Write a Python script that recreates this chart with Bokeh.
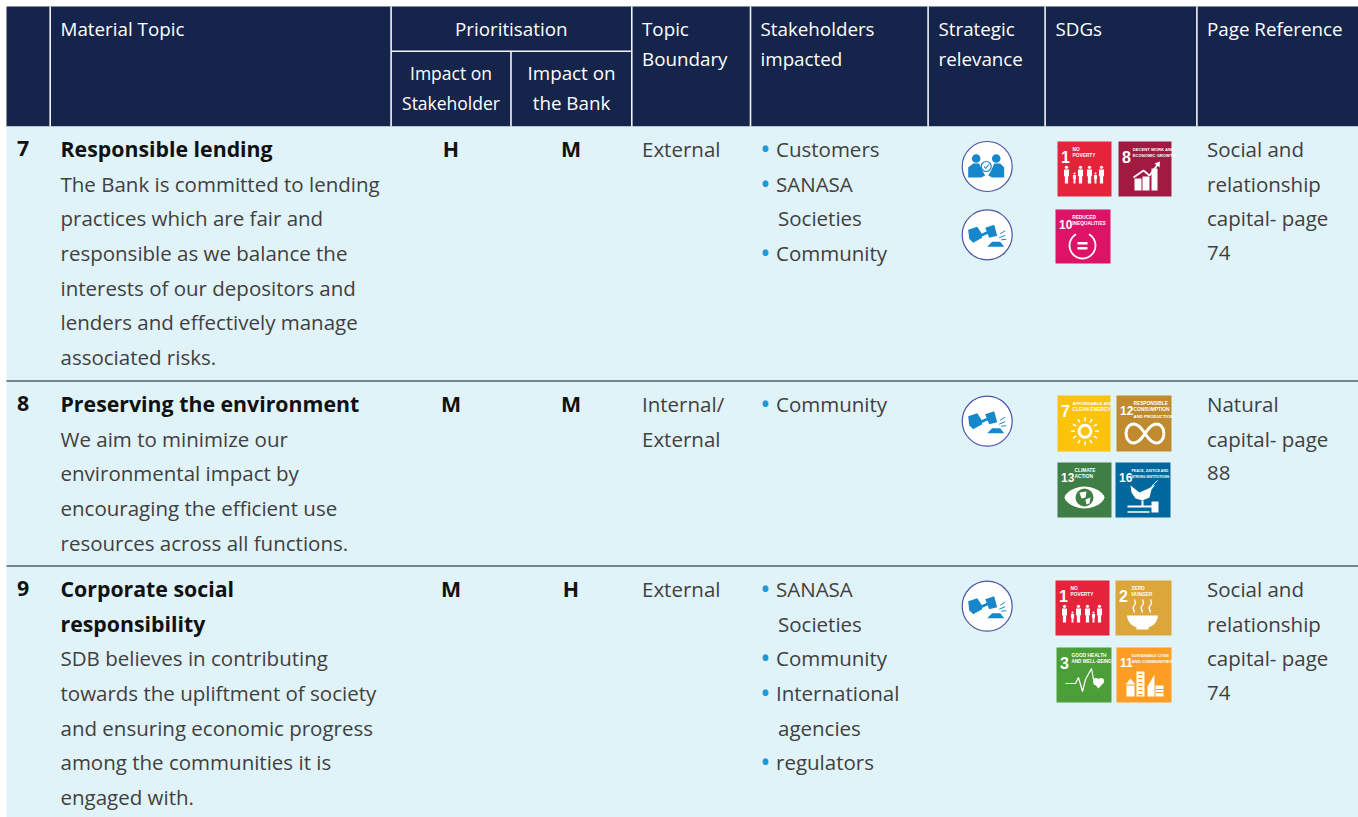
import math
from bokeh.plotting import figure
from bokeh.models import Range1d
from bokeh.core.properties import value
from bokeh.embed import file_html
from bokeh.resources import INLINE

# ---- table content ----
row_numbers = ["7", "8", "9"]
titles = [["Responsible lending"], ["Preserving the environment"], ["Corporate social", "responsibility"]]
descriptions = [
    ["The Bank is committed to lending", "practices which are fair and", "responsible as we balance the",
     "interests of our depositors and", "lenders and effectively manage", "associated risks."],
    ["We aim to minimize our", "environmental impact by", "encouraging the efficient use", "resources across all functions."],
    ["SDB believes in contributing", "towards the upliftment of society", "and ensuring economic progress",
     "among the communities it is", "engaged with."],
]
impact_stakeholder = ["H", "M", "M"]
impact_bank = ["M", "M", "H"]
boundaries = [["External"], ["Internal/", "External"], ["External"]]
stakeholders = [
    [["Customers"], ["SANASA", "Societies"], ["Community"]],
    [["Community"]],
    [["SANASA", "Societies"], ["Community"], ["International", "agencies"], ["regulators"]],
]
page_refs = [["Social and", "relationship", "capital- page", "74"],
             ["Natural", "capital- page", "88"],
             ["Social and", "relationship", "capital- page", "74"]]
strategic_icons = [["people", "gavel"], ["gavel"], ["gavel"]]
sdgs = [[1, 8, 10], [7, 12, 13, 16], [1, 2, 3, 11]]
sdg_labels = {1: ["NO", "POVERTY"], 2: ["ZERO", "HUNGER"], 3: ["GOOD HEALTH", "AND WELL-BEING"],
              7: ["AFFORDABLE AND", "CLEAN ENERGY"], 8: ["DECENT WORK AND", "ECONOMIC GROWTH"],
              10: ["REDUCED", "INEQUALITIES"], 11: ["SUSTAINABLE CITIES", "AND COMMUNITIES"],
              12: ["RESPONSIBLE", "CONSUMPTION", "AND PRODUCTION"], 13: ["CLIMATE", "ACTION"],
              16: ["PEACE, JUSTICE AND", "STRONG INSTITUTIONS"]}
sdg_label_x = {1: 15, 2: 16, 3: 15, 7: 15, 8: 14.3, 10: 16.7, 11: 15, 12: 17, 13: 17, 16: 16}
sdg_colors = {1: "#E5243B", 2: "#DDA63A", 3: "#4C9F38", 7: "#FCC30B", 8: "#A21942", 10: "#DD1367",
              11: "#FD9D24", 12: "#BF8B2E", 13: "#3F7E44", 16: "#00689D"}

# ---- styling and layout (page pixels) ----
NAVY, BODY, INK, BULLET, STROKE, ICON = "#15244A", "#E0F3F8", "#404040", "#1B9AD6", "#4A55A8", "#1787CC"
LEFT, RIGHT, TOP, HEAD_BOTTOM, BOTTOM = 6, 1358, 6, 126, 817
FONT, FS, FS_BOLD, FS_HEAD, LH = "Open Sans", 20.5, 21.3, 18.8, 34.7
row_first_baseline = [148.4, 403.4, 588.4]
row_dividers = [380.5, 565.5]
tile_boxes = [
    [(1057, 141, 1111, 196), (1118, 141, 1171, 196), (1055, 209, 1110, 263)],
    [(1057, 395, 1110, 451), (1116, 395, 1171, 451), (1057, 462, 1111, 517), (1115, 462, 1170, 517)],
    [(1055, 580, 1109, 635), (1115, 580, 1171, 635), (1056, 647, 1111, 702), (1116, 647, 1171, 702)],
]
icon_centres = [[(986.7, 166), (986.7, 234.3)], [(986.7, 420.7)], [(986.7, 605.7)]]

p = figure(width=1358, height=817, x_range=Range1d(0, 1358), y_range=Range1d(817, 0),
           toolbar_location=None, output_backend="svg", min_border=0)
p.axis.visible = False
p.grid.visible = False
p.outline_line_color = None
p.background_fill_color = "white"


def txt(x, y, s, size=FS, color=INK, bold=False, align="left", font=FONT):
    p.text([x], [y], text=[s], text_font=value(font), text_font_size=f"{size}px", text_color=color,
           text_font_style="bold" if bold else "normal", text_align=align, text_baseline="alphabetic")


def box(x0, y0, x1, y1, color):
    p.quad(left=[x0], right=[x1], top=[y0], bottom=[y1], fill_color=color, line_color=None)


def line(xs, ys, color="white", w=1.0):
    p.line(xs, ys, line_color=color, line_width=w)


def disc(x, y, r, color="white", stroke=None, w=1.0):
    p.circle([x], [y], radius=r, fill_color=color, line_color=stroke, line_width=w)


def ring(x, y, r, color="white", w=2.0):
    p.circle([x], [y], radius=r, fill_color=None, line_color=color, line_width=w)


def poly(pts, color="white"):
    p.patch([a for a, _ in pts], [b for _, b in pts], fill_color=color, line_color=None)


# backgrounds
box(LEFT, TOP, RIGHT, HEAD_BOTTOM, NAVY)
box(LEFT, HEAD_BOTTOM, RIGHT, BOTTOM, BODY)
for sx in [49.7, 390.6, 631.3, 750, 927.6, 1044.6, 1196.4]:
    line([sx, sx], [TOP, HEAD_BOTTOM], "#F2F4F7", 1.6)
line([510.5, 510.5], [50.7, HEAD_BOTTOM], "#F2F4F7", 1.6)
line([390.6, 631.3], [50.7, 50.7], "#F2F4F7", 1.6)
for ry in row_dividers:
    line([LEFT, RIGHT], [ry, ry], "#0E1526", 1.0)


def head(x, y, s, align="left", size=FS_HEAD):
    txt(x, y, s, size=size, color="white", align=align)


# header
H1, H2 = 28, 58
head(60, H1, "Material Topic")
head(510.7, H1, "Prioritisation", align="center")
head(450.5, 72, "Impact on", align="center", size=17.5)
head(450.5, 102.5, "Stakeholder", align="center", size=17.5)
head(571, 72, "Impact on", align="center")
head(571, 102.5, "the Bank", align="center")
head(641.5, H1, "Topic")
head(641.5, H2, "Boundary")
head(760, H1, "Stakeholders")
head(760, H2, "impacted")
head(938, H1, "Strategic")
head(938, H2, "relevance")
head(1055, H1, "SDGs")
head(1206.5, H1, "Page Reference")

# rows
for i, b0 in enumerate(row_first_baseline):
    txt(22.5, b0, row_numbers[i], size=FS_BOLD, color="#111111", bold=True, align="center")
    n = 0
    for t in titles[i]:
        txt(60, b0 + n * LH, t, size=FS_BOLD, color="#111111", bold=True)
        n += 1
    for d in descriptions[i]:
        txt(60, b0 + n * LH, d)
        n += 1
    txt(450.5, b0, impact_stakeholder[i], size=FS_BOLD, color="#111111", bold=True, align="center")
    txt(570.5, b0, impact_bank[i], size=FS_BOLD, color="#111111", bold=True, align="center")
    for k, t in enumerate(boundaries[i]):
        txt(641.5, b0 + k * LH, t)
    n = 0
    for entry in stakeholders[i]:
        txt(761, b0 + n * LH, "•", color=BULLET, bold=True)
        for k, t in enumerate(entry):
            txt(775.5 if k == 0 else 777.5, b0 + n * LH, t)
            n += 1
    for k, t in enumerate(page_refs[i]):
        txt(1206.5, b0 + k * LH, t)


# strategic relevance icons
def people_icon(cx, cy):
    disc(cx, cy, 25, "white", STROKE, 1.2)
    disc(cx - 11, cy - 8, 4.3, ICON)
    disc(cx + 9, cy - 8, 4.3, ICON)
    poly([(cx - 19, cy + 11), (cx - 19, cy + 1), (cx - 14, cy - 3), (cx - 8, cy - 3), (cx - 5, cy + 4),
          (cx - 2, cy + 9), (cx - 6, cy + 11)], ICON)
    poly([(cx + 17, cy + 11), (cx + 17, cy + 1), (cx + 13, cy - 3), (cx + 7, cy - 3), (cx + 4, cy + 4),
          (cx + 1, cy + 9), (cx + 5, cy + 11)], ICON)
    disc(cx - 1, cy, 5, "white", ICON, 1.2)
    line([cx - 3, cx - 1.5, cx + 1.5], [cy, cy + 2, cy - 2], ICON, 1.1)


def gavel_icon(cx, cy):
    disc(cx, cy, 25, "white", STROKE, 1.2)
    poly([(cx - 19, cy - 5), (cx - 10, cy - 8), (cx - 6, cy - 2), (cx - 5, cy + 3), (cx - 14, cy + 8), (cx - 18, cy + 4)], ICON)
    line([cx - 7, cx + 2], [cy + 1, cy - 3], ICON, 2.6)
    poly([(cx - 2, cy - 7), (cx + 7, cy - 10), (cx + 10, cy + 1), (cx + 2, cy + 3)], ICON)
    poly([(cx + 0, cy + 12), (cx + 5, cy + 7), (cx + 13, cy + 7), (cx + 17, cy + 12)], ICON)
    line([cx + 12, cx + 18], [cy + 3, cy + 0.5], ICON, 1.0)
    line([cx + 13, cx + 18], [cy - 1, cy - 4], ICON, 1.0)
    line([cx + 14, cx + 19], [cy + 5, cy + 4.5], ICON, 1.0)


for i, names in enumerate(strategic_icons):
    for name, (cx, cy) in zip(names, icon_centres[i]):
        (people_icon if name == "people" else gavel_icon)(cx, cy)


# SDG pictographs, local to a tile
def person(x, y, h):
    disc(x, y + h * 0.1, h * 0.09)
    box(x - h * 0.14, y + h * 0.22, x + h * 0.14, y + h * 0.6, "white")
    box(x - h * 0.09, y + h * 0.55, x + h * 0.09, y + h, "white")


def art(n, x, y, bg):
    if n == 1:
        for dx in (9, 23, 32, 44):
            person(x + dx, y + 24, 18)
        for dx in (17, 38):
            person(x + dx, y + 31, 11)
    elif n == 8:
        for a, b, c in ((16, 23, 37), (24, 31, 35), (33, 39, 27)):
            box(x + a, y + c, x + b, y + 49, "white")
        line([x + 15, x + 25, x + 31, x + 40], [y + 36, y + 29, y + 34, y + 22], "white", 1.8)
        poly([(x + 41.5, y + 20), (x + 36, y + 22), (x + 41, y + 26)])
    elif n == 10:
        ang = [math.radians(a) for a in range(-60, 250, 10)]
        line([x + 27 + 13 * math.cos(a) for a in ang], [y + 36 + 13 * math.sin(a) for a in ang], "white", 1.8)
        box(x + 22, y + 32.5, x + 32, y + 35, "white")
        box(x + 22, y + 37.5, x + 32, y + 40, "white")
    elif n == 7:
        cx, cy = x + 27.5, y + 35.7
        ring(cx, cy, 6, "white", 3)
        for a in range(0, 360, 30):
            c, s = math.cos(math.radians(a)), math.sin(math.radians(a))
            line([cx + 10 * c, cx + 14 * c], [cy + 10 * s, cy + 14 * s], "white", 1.5)
    elif n == 12:
        ts = [math.radians(a) for a in range(0, 361, 10)]
        line([x + 28.5 + 19 * math.cos(t) / (1 + math.sin(t) ** 2) for t in ts],
             [y + 38 + 27 * math.sin(t) * math.cos(t) / (1 + math.sin(t) ** 2) for t in ts], "white", 3)
    elif n == 13:
        ang = [math.radians(a) for a in range(0, 361, 15)]
        poly([(x + 27 + 20 * math.cos(a), y + 35 + 11 * math.sin(a) * abs(math.sin(a)) ** 0.3) for a in ang])
        disc(x + 27, y + 35, 9, bg)
        poly([(x + 22, y + 30), (x + 29, y + 29), (x + 28, y + 35), (x + 24, y + 36)])
        poly([(x + 28, y + 37), (x + 33, y + 35), (x + 32, y + 41), (x + 29, y + 42)])
    elif n == 16:
        poly([(x + 15, y + 23), (x + 24, y + 30), (x + 33, y + 26), (x + 40, y + 22), (x + 36, y + 27),
              (x + 34, y + 35), (x + 27, y + 38), (x + 20, y + 36), (x + 16, y + 30)])
        line([x + 36, x + 42], [y + 24, y + 18], "white", 1)
        line([x + 12, x + 40], [y + 44, y + 44], "white", 2)
        box(x + 26, y + 38, x + 28, y + 44, "white")
        box(x + 36, y + 39, x + 43, y + 50, "white")
        line([x + 12, x + 34], [y + 49.5, y + 49.5], "white", 1.5)
    elif n == 2:
        ang = [math.radians(a) for a in range(0, 181, 15)]
        poly([(x + 27 + 15.5 * math.cos(a), y + 35 + 13 * math.sin(a)) for a in ang])
        box(x + 21, y + 46, x + 33, y + 49, "white")
        for dx in (19, 27, 35):
            line([x + dx, x + dx - 1.5, x + dx + 1, x + dx], [y + 32, y + 27, y + 23, y + 19], "white", 1.4)
    elif n == 3:
        line([x + 9, x + 19, x + 22, x + 26, x + 29, x + 35, x + 38, x + 42],
             [y + 36, y + 36, y + 30, y + 44, y + 32, y + 21, y + 37, y + 37], "white", 1.2)
        disc(x + 39.5, y + 33.5, 3)
        disc(x + 44.5, y + 33.5, 3)
        poly([(x + 36.7, y + 35), (x + 47.3, y + 35), (x + 42, y + 41)])
    elif n == 11:
        poly([(x + 9, y + 37), (x + 14, y + 31), (x + 19, y + 37)])
        box(x + 10, y + 38, x + 18, y + 49, "white")
        box(x + 20, y + 24, x + 28, y + 49, "white")
        poly([(x + 31, y + 49), (x + 31, y + 39), (x + 38, y + 27), (x + 38, y + 49)])
        box(x + 39, y + 38, x + 47, y + 49, "white")
        for yy in range(27, 48, 4):
            line([x + 22, x + 26], [y + yy, y + yy], bg, 1.2)
        line([x + 39, x + 47], [y + 42, y + 42], bg, 1)
        line([x + 39, x + 47], [y + 45, y + 45], bg, 1)


for i, tiles in enumerate(sdgs):
    for n, (x0, y0, x1, y1) in zip(tiles, tile_boxes[i]):
        c = sdg_colors[n]
        box(x0, y0, x1, y1, c)
        txt(x0 + 3.5, y0 + 15, str(n), size=16 if n < 10 else 12, color="white", bold=True, font="Liberation Sans")
        room = x1 - x0 - sdg_label_x[n] - 1.5
        for k, s in enumerate(sdg_labels[n]):
            fit = round(min(4.8, room / (len(s) * 0.6)), 2)
            txt(x0 + sdg_label_x[n], y0 + 8 + k * 6.4, s, size=fit, color="white", bold=True, font="Liberation Sans")
        art(n, x0, y0, c)

open("out.html", "w").write(file_html(p, INLINE))
